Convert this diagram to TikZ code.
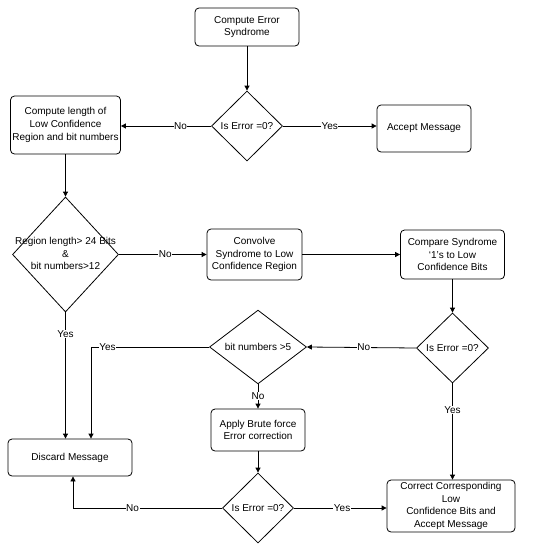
\documentclass[tikz,border=0pt]{standalone}
\usepackage{fontspec}
\setmainfont{Liberation Sans}
\usetikzlibrary{positioning,arrows.meta,shapes.geometric,calc}

\begin{document}
\begin{tikzpicture}[
    x=1pt, y=-1pt,
    >={Triangle[length=5pt,width=5pt]},
    every node/.style={font=\fontsize{10}{12.6}\selectfont, text=black},
    proc/.style={
        rectangle, rounded corners=4pt, draw, line width=0.8pt,
        align=center, inner sep=1pt,
    },
    dec/.style={
        diamond, draw, line width=0.8pt, inner sep=0pt, align=center,
    },
    arr/.style={->, line width=0.8pt},
    lbl/.style={fill=white, inner sep=0.5pt},
]

\useasboundingbox (0,0) rectangle (548,550);

% --- Top row ---
\node[proc, minimum width=104pt, minimum height=38pt] (start) at (247,27)
    {Compute Error\\Syndrome};
\node[dec, minimum width=71pt, minimum height=70pt] (iserr1) at (247,126)
    {Is Error =0?};
\node[proc, minimum width=110pt, minimum height=58pt] (complen) at (65.5,125)
    {Compute length of\\Low Confidence\\Region and bit numbers};
\node[proc, minimum width=94pt, minimum height=47pt] (accept) at (424,128.5)
    {Accept Message};

% --- Middle row ---
\node[dec, minimum width=106pt, minimum height=115pt] (region) at (65.5,254.5) {};
\node (regiontxt) at (region.center)
    {\begin{tabular}{@{}c@{}}Region length> 24 Bits\\\&\\bit numbers>12\end{tabular}};
\node[proc, minimum width=95pt, minimum height=51pt] (convolve) at (254.5,254.5)
    {Convolve\\Syndrome to Low\\Confidence Region};
\node[proc, minimum width=104pt, minimum height=49pt] (compare) at (452.5,254.5)
    {Compare Syndrome\\`1's to Low\\Confidence Bits};

% --- Lower rows ---
\node[dec, minimum width=72pt, minimum height=70pt] (iserr2) at (452.5,348)
    {Is Error =0?};
\node[dec, minimum width=97pt, minimum height=68pt] (bitnum) at (258,347)
    {bit numbers >5};
\node[proc, minimum width=124pt, minimum height=37pt] (discard) at (70,457.5)
    {Discard Message};
\node[proc, minimum width=94pt, minimum height=42pt] (brute) at (258,430)
    {Apply Brute force\\Error correction};
\node[dec, minimum width=71pt, minimum height=70pt] (iserr3) at (258,508)
    {Is Error =0?};
\node[proc, minimum width=128pt, minimum height=52pt] (correct) at (451,506)
    {Correct Corresponding\\Low\\Confidence Bits and\\Accept Message};

% --- Connectors ---
\draw[arr] (start.south) -- (iserr1.north);
\draw[arr] (iserr1.west) -- node[lbl, pos=0.34] {No} (iserr1.west -| complen.east);
\draw[arr] (iserr1.east) -- node[lbl, pos=0.5] {Yes} (iserr1.east -| accept.west);
\draw[arr] (complen.south) -- (region.north);
\draw[arr] (region.east) -- node[lbl, pos=0.53] {No} (convolve.west);
\draw[arr] (convolve.east) -- (compare.west);
\draw[arr] (compare.south) -- (iserr2.north);
\draw[arr] (region.south) -- node[lbl, pos=0.17] {Yes} (region.south |- discard.north);
\draw[arr] (iserr2.west) -- node[lbl, pos=0.48] {No} (bitnum.east);
\draw[arr] (bitnum.west) -| node[lbl, pos=0.43] {Yes} ([xshift=21pt]discard.north);
\draw[arr] (bitnum.south) -- node[lbl, pos=0.5] {No} (brute.north);
\draw[arr] (brute.south) -- (iserr3.north);
\draw[arr] (iserr2.south) -- node[lbl, pos=0.28] {Yes} (iserr2.south |- correct.north);
\draw[arr] (iserr3.east) -- node[lbl, pos=0.52] {Yes} (iserr3.east -| correct.west);
\draw[arr] (iserr3.west) -| node[lbl, pos=0.3] {No} ([xshift=3pt]discard.south);

\end{tikzpicture}
\end{document}
